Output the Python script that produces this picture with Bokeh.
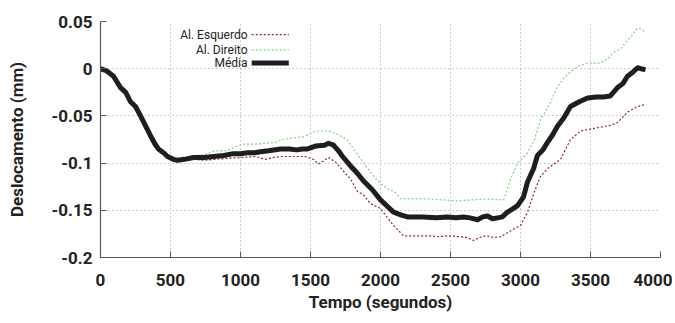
from bokeh.plotting import figure
from bokeh.models import FixedTicker, Range1d, Label
from bokeh.embed import file_html
from bokeh.resources import INLINE

# ---- data (seconds, mm) ----
t_media = [0, 40, 93, 143, 180, 214, 250, 286, 320, 357, 390, 414, 450, 479, 520, 550, 600, 664, 740, 807,
           880, 950, 1000, 1050, 1100, 1143, 1200, 1286, 1350, 1400, 1443, 1479, 1536, 1600, 1629, 1664, 1700,
           1729, 1786, 1830, 1879, 1940, 2000, 2050, 2093, 2150, 2193, 2300, 2400, 2479, 2540, 2593, 2640, 2693,
           2730, 2764, 2800, 2836, 2870, 2907, 2950, 2979, 3021, 3050, 3093, 3121, 3160, 3193, 3230, 3264, 3310,
           3357, 3420, 3479, 3540, 3593, 3640, 3693, 3730, 3764, 3800, 3836, 3860, 3893]
media = [0.000, -0.002, -0.008, -0.020, -0.025, -0.035, -0.040, -0.050, -0.060, -0.071, -0.080, -0.085, -0.089,
         -0.093, -0.096, -0.097, -0.096, -0.094, -0.094, -0.093, -0.092, -0.090, -0.090, -0.089, -0.089, -0.088,
         -0.087, -0.085, -0.085, -0.086, -0.085, -0.085, -0.082, -0.081, -0.079, -0.081, -0.087, -0.093, -0.103,
         -0.110, -0.119, -0.128, -0.139, -0.146, -0.152, -0.155, -0.157, -0.157, -0.158, -0.157, -0.158, -0.157,
         -0.158, -0.160, -0.157, -0.156, -0.159, -0.158, -0.157, -0.152, -0.148, -0.145, -0.136, -0.120, -0.106,
         -0.092, -0.086, -0.078, -0.070, -0.061, -0.052, -0.040, -0.035, -0.031, -0.030, -0.030, -0.029, -0.020,
         -0.016, -0.008, -0.004, 0.001, 0.000, -0.001]

t_direito = [0, 40, 93, 143, 180, 214, 250, 286, 320, 357, 414, 479, 550, 600, 664, 740, 821, 900, 964, 1014,
             1100, 1179, 1250, 1300, 1393, 1450, 1500, 1536, 1629, 1700, 1758, 1808, 1879, 1940, 2003, 2060, 2098,
             2148, 2250, 2350, 2450, 2550, 2650, 2750, 2879, 2907, 2929, 2980, 3050, 3100, 3143, 3200, 3264, 3310,
             3357, 3420, 3479, 3571, 3620, 3664, 3720, 3764, 3800, 3836, 3865, 3893]
direito = [0.000, -0.002, -0.008, -0.021, -0.027, -0.037, -0.043, -0.054, -0.063, -0.073, -0.087, -0.094, -0.096,
           -0.095, -0.092, -0.091, -0.087, -0.087, -0.083, -0.080, -0.080, -0.079, -0.078, -0.075, -0.073, -0.072,
           -0.069, -0.066, -0.066, -0.070, -0.075, -0.085, -0.100, -0.112, -0.122, -0.128, -0.130, -0.138, -0.138,
           -0.138, -0.139, -0.140, -0.139, -0.138, -0.139, -0.127, -0.117, -0.100, -0.089, -0.075, -0.054, -0.040,
           -0.019, -0.010, -0.003, 0.003, 0.006, 0.006, 0.010, 0.017, 0.022, 0.030, 0.036, 0.043, 0.042, 0.038]

t_esquerdo = [0, 40, 93, 143, 180, 214, 250, 286, 320, 357, 414, 479, 550, 600, 664, 740, 821, 900, 1014, 1107,
              1179, 1240, 1300, 1380, 1464, 1520, 1557, 1600, 1629, 1679, 1750, 1786, 1836, 1880, 1929, 2000, 2050,
              2093, 2164, 2250, 2357, 2420, 2479, 2571, 2620, 2664, 2720, 2764, 2810, 2857, 2950, 3000, 3050, 3100,
              3143, 3200, 3286, 3357, 3429, 3500, 3571, 3640, 3693, 3764, 3800, 3836, 3893]
esquerdo = [0.000, -0.002, -0.008, -0.019, -0.024, -0.033, -0.037, -0.047, -0.058, -0.070, -0.084, -0.093, -0.097,
            -0.097, -0.096, -0.097, -0.096, -0.095, -0.094, -0.093, -0.096, -0.094, -0.093, -0.093, -0.093, -0.096,
            -0.101, -0.097, -0.094, -0.099, -0.111, -0.117, -0.130, -0.134, -0.143, -0.148, -0.158, -0.166, -0.177,
            -0.177, -0.177, -0.178, -0.177, -0.178, -0.179, -0.182, -0.178, -0.177, -0.179, -0.178, -0.170, -0.166,
            -0.152, -0.130, -0.114, -0.105, -0.096, -0.075, -0.066, -0.064, -0.062, -0.060, -0.057, -0.046, -0.043,
            -0.040, -0.038]

x_ticks = [0, 500, 1000, 1500, 2000, 2500, 3000, 3500, 4000]
y_ticks = [0.05, 0, -0.05, -0.1, -0.15, -0.2]
y_tick_labels = ["0.05", "0", "-0.05", "-0.1", "-0.15", "-0.2"]

legend_labels = ["Al. Esquerdo", "Al. Direito", "Média"]
legend_colors = ["#8b2a2a", "#7fd37f", "#1e1e1e"]
legend_widths = [1.2, 1.2, 5]
legend_dashes = ["2 2", "2 2", "solid"]

FONT = "Roboto"

W, H = 672, 320
p = figure(width=W, height=H, output_backend="svg", toolbar_location=None,
           x_range=Range1d(0, 4000), y_range=Range1d(-0.2, 0.05),
           min_border_left=100, min_border_right=W - 660, min_border_top=21, min_border_bottom=H - 257)
p.outline_line_color = None
p.background_fill_color = "white"

# grid
for g in (p.xgrid, p.ygrid):
    g.grid_line_color = "#9a9a9a"
    g.grid_line_dash = "1 3"
    g.grid_line_width = 1
p.xgrid.ticker = FixedTicker(ticks=x_ticks)
p.ygrid.ticker = FixedTicker(ticks=y_ticks)

# axes
xa = p.xaxis[0]
ya = p.yaxis[0]
xa.ticker = FixedTicker(ticks=x_ticks)
ya.ticker = FixedTicker(ticks=y_ticks)
ya.major_label_overrides = {v: s for v, s in zip(y_ticks, y_tick_labels)}
xa.axis_label = "Tempo (segundos)"
ya.axis_label = "Deslocamento (mm)"
for ax in (xa, ya):
    ax.axis_line_color = "#555555"
    ax.axis_line_width = 1.2
    ax.major_tick_in = 6
    ax.major_tick_out = 0
    ax.minor_tick_line_color = None
    ax.major_tick_line_color = "#555555"
    ax.major_label_text_font = FONT
    ax.major_label_text_font_size = "17px"
    ax.major_label_text_font_style = "bold"
    ax.major_label_text_color = "#222222"
    ax.axis_label_text_font = FONT
    ax.axis_label_text_font_size = "17px"
    ax.axis_label_text_font_style = "bold"
    ax.axis_label_text_color = "#222222"
xa.major_label_standoff = 16
xa.axis_label_standoff = 3
ya.major_label_standoff = 8
ya.axis_label_standoff = 22

# series
p.line(t_esquerdo, esquerdo, line_color=legend_colors[0], line_width=legend_widths[0], line_dash=legend_dashes[0])
p.line(t_direito, direito, line_color=legend_colors[1], line_width=legend_widths[1], line_dash=legend_dashes[1])
p.line(t_media, media, line_color=legend_colors[2], line_width=legend_widths[2], line_join="round")

# legend (text right-aligned, sample on the right, gnuplot style)
leg_text_x = 1050
leg_line_x = [1080, 1345]
leg_y = [0.036, 0.020, 0.006]
for lab, col, w, d, yy in zip(legend_labels, legend_colors, legend_widths, legend_dashes, leg_y):
    p.add_layout(Label(x=leg_text_x, y=yy, text=lab, text_align="right", text_baseline="middle",
                       text_font=FONT, text_font_size="12px", text_color="#222222"))
    p.line(leg_line_x, [yy, yy], line_color=col, line_width=w, line_dash=d)

open("out.html", "w").write(file_html(p, INLINE))
